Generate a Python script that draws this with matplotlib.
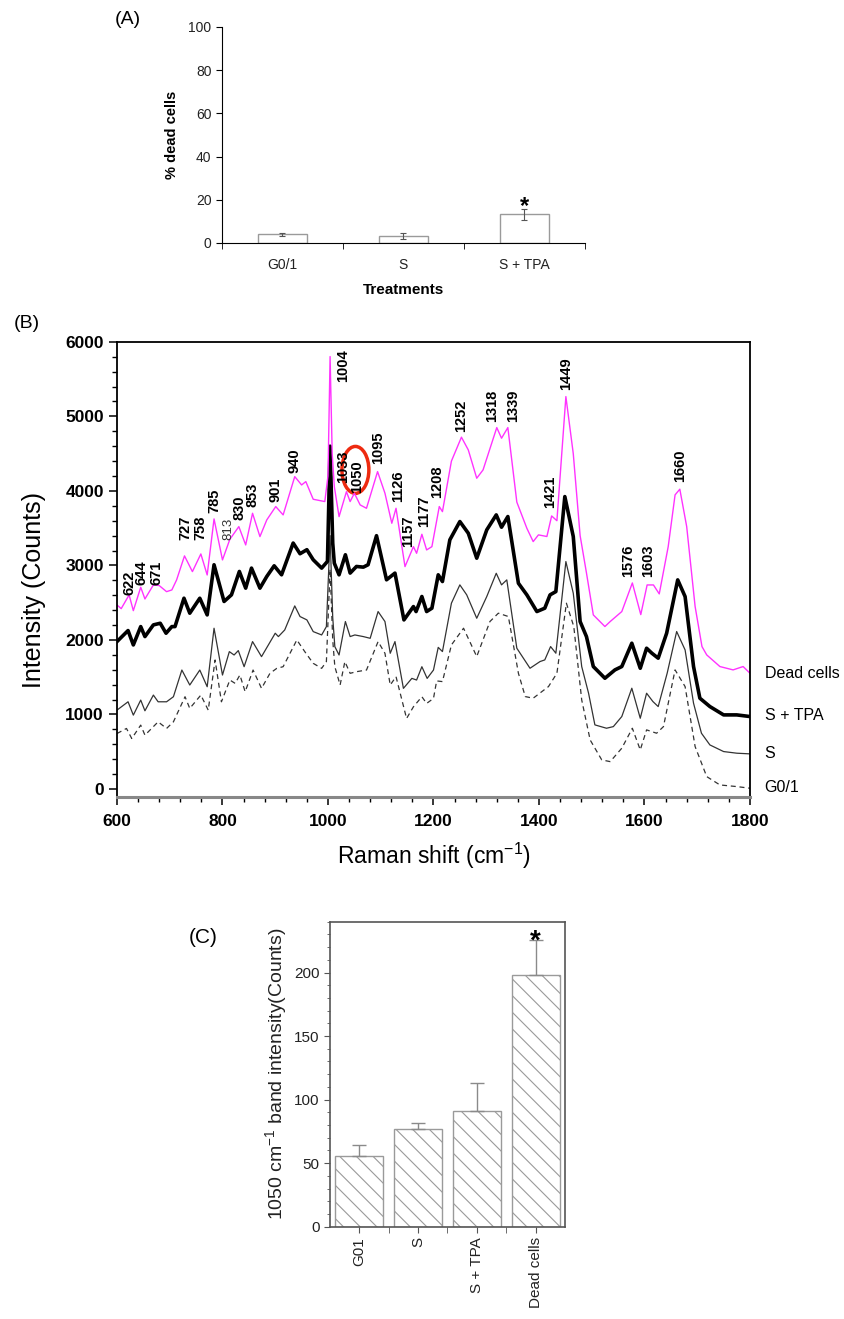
import numpy as np
import matplotlib
matplotlib.use("Agg")
import matplotlib.pyplot as plt
from matplotlib.patches import Ellipse
from matplotlib.ticker import MultipleLocator, FixedLocator

plt.rcParams['font.family'] = ['Liberation Sans', 'DejaVu Sans']
plt.rcParams['mathtext.fontset'] = 'custom'
plt.rcParams['mathtext.rm'] = 'Liberation Sans'
plt.rcParams['mathtext.it'] = 'Liberation Sans:italic'
plt.rcParams['hatch.linewidth'] = 0.8

# (A) percentage of dead cells per treatment
treat_a = ['G0/1', 'S', 'S + TPA']
dead_pct = [4.0, 3.1, 13.2]
dead_err = [0.8, 1.4, 2.5]

# (B) Raman spectra (wavenumber, counts)
w_dead = [600, 608, 623, 631, 645, 653, 669, 680, 694, 704, 713, 728, 743, 759, 771, 784,
          800, 814, 831, 844, 857, 871, 884, 901, 915, 937, 950, 958, 972, 994, 1000, 1004,
          1008, 1012, 1021, 1035, 1042, 1050, 1061, 1073, 1094, 1108, 1121, 1129, 1146, 1162,
          1168, 1178, 1187, 1197, 1211, 1217, 1234, 1253, 1266, 1282, 1294, 1320, 1329, 1341,
          1358, 1377, 1389, 1399, 1415, 1424, 1434, 1451, 1465, 1478, 1490, 1503, 1525, 1535,
          1557, 1577, 1593, 1605, 1617, 1628, 1645, 1658, 1667, 1680, 1696, 1709, 1718, 1743,
          1768, 1787, 1800]
i_dead = [2470, 2420, 2604, 2393, 2707, 2550, 2738, 2730, 2648, 2671, 2805, 3128, 2917, 3154, 2872, 3624,
          3074, 3351, 3521, 3275, 3700, 3387, 3611, 3790, 3678, 4192, 4080, 4125, 3888, 3857, 4200, 5803,
          4500, 4058, 3655, 3990, 3857, 3969, 3812, 3767, 4259, 3969, 3566, 3767, 2984, 3252,
          3163, 3418, 3208, 3252, 3790, 3722, 4400, 4721, 4550, 4170, 4282, 4850, 4707, 4850,
          3850, 3499, 3320, 3410, 3388, 3664, 3600, 5266, 4500, 3400, 2900, 2336, 2180, 2247,
          2381, 2765, 2340, 2738, 2738, 2618, 3253, 3947, 4023, 3522, 2448, 1911, 1799, 1643,
          1598, 1643, 1553]

w_stpa = [600, 621, 631, 645, 653, 669, 682, 693, 704, 710, 727, 738, 757, 771, 784, 803,
          817, 832, 844, 855, 871, 884, 898, 912, 934, 947, 960, 972, 988, 999, 1004, 1009,
          1012, 1021, 1033, 1042, 1054, 1067, 1076, 1092, 1111, 1127, 1144, 1162, 1167, 1178,
          1187, 1197, 1209, 1217, 1231, 1250, 1266, 1282, 1301, 1319, 1329, 1341, 1361, 1377,
          1396, 1411, 1421, 1432, 1449, 1465, 1478, 1490, 1503, 1525, 1544, 1557, 1576, 1592,
          1604, 1614, 1626, 1642, 1663, 1677, 1693, 1705, 1724, 1750, 1775, 1800]
i_stpa = [1978, 2126, 1933, 2179, 2045, 2202, 2224, 2090, 2179, 2179, 2560, 2359, 2560, 2336, 3009, 2516,
          2605, 2919, 2695, 2964, 2695, 2852, 2995, 2874, 3300, 3157, 3211, 3076, 2964, 3054, 4600, 3300,
          3030, 2874, 3143, 2897, 2986, 2977, 3009, 3399, 2807, 2897, 2269, 2448, 2381, 2583,
          2381, 2426, 2874, 2784, 3343, 3589, 3432, 3097, 3477, 3678, 3513, 3656, 2761, 2605,
          2381, 2426, 2605, 2649, 3924, 3388, 2247, 2045, 1643, 1486, 1598, 1643, 1956, 1620,
          1889, 1822, 1755, 2090, 2806, 2582, 1643, 1218, 1106, 994, 994, 972]

w_s = [600, 621, 631, 645, 653, 669, 678, 694, 707, 723, 738, 757, 771, 784, 800, 813,
       822, 830, 841, 857, 874, 900, 906, 918, 937, 947, 960, 972, 988, 997, 1004, 1009,
       1013, 1021, 1033, 1042, 1051, 1067, 1080, 1095, 1108, 1118, 1127, 1143, 1159, 1168,
       1178, 1188, 1200, 1209, 1217, 1234, 1250, 1263, 1282, 1301, 1319, 1329, 1339, 1358,
       1383, 1402, 1411, 1422, 1432, 1451, 1465, 1481, 1494, 1506, 1528, 1541, 1557, 1576,
       1592, 1604, 1616, 1626, 1643, 1661, 1677, 1693, 1708, 1724, 1750, 1775, 1800]
i_s = [1058, 1170, 991, 1193, 1049, 1260, 1170, 1170, 1238, 1596, 1395, 1596, 1372, 2157, 1529, 1843,
       1798, 1857, 1641, 1978, 1776, 2090, 2045, 2134, 2457, 2314, 2269, 2112, 2067, 2179, 3400, 2300,
       1910, 1798, 2247, 2045, 2067, 2045, 2022, 2381, 2247, 1821, 1978, 1350, 1484, 1462,
       1641, 1484, 1596, 1900, 1844, 2493, 2739, 2605, 2291, 2582, 2895, 2739, 2806, 1889,
       1620, 1710, 1732, 1911, 1822, 3052, 2627, 1643, 1285, 860, 815, 837, 972, 1352,
       949, 1285, 1173, 1106, 1553, 2113, 1866, 1151, 748, 591, 502, 480, 471]

w_g01 = [600, 618, 628, 645, 653, 678, 694, 707, 729, 738, 759, 773, 786, 798, 814, 824,
         833, 843, 858, 874, 890, 903, 915, 941, 956, 972, 988, 997, 1004, 1009, 1013, 1023,
         1032, 1042, 1054, 1073, 1095, 1108, 1118, 1129, 1149, 1162, 1178, 1187, 1200, 1206,
         1217, 1234, 1257, 1282, 1307, 1323, 1342, 1361, 1374, 1389, 1418, 1434, 1452, 1466,
         1481, 1497, 1519, 1535, 1557, 1577, 1592, 1604, 1623, 1636, 1658, 1677, 1696, 1718,
         1743, 1775, 1800]
i_g01 = [744, 812, 677, 857, 722, 901, 812, 901, 1238, 1081, 1260, 1058, 1731, 1170, 1462, 1417,
         1529, 1305, 1596, 1350, 1552, 1619, 1641, 2000, 1843, 1686, 1619, 1709, 2950, 2000, 1641, 1395,
         1709, 1552, 1574, 1596, 1978, 1821, 1395, 1507, 946, 1103, 1238, 1148, 1215, 1450,
         1441, 1933, 2157, 1777, 2247, 2359, 2314, 1553, 1240, 1218, 1374, 1553, 2493, 2180,
         1195, 658, 390, 367, 547, 815, 524, 793, 748, 837, 1598, 1374, 569, 166,
         54, 32, 10]

series_names = ['Dead cells', 'S + TPA', 'S', 'G0/1']
series_label_y = [1550, 990, 480, 20]

# peak assignments written above the dead-cell spectrum
peak_text = ['622', '644', '671', '727', '758', '785', '813', '830', '853', '901', '940',
             '1004', '1033', '1050', '1095', '1126', '1157', '1177', '1208', '1252', '1318',
             '1339', '1421', '1449', '1576', '1603', '1660']
peak_x = [623, 647, 675, 729, 759, 784, 811, 833, 856, 901, 937,
          1029, 1029, 1056, 1095, 1133, 1152, 1182, 1207, 1253, 1312,
          1351, 1421, 1451, 1569, 1607, 1667]
peak_y = [2604, 2738, 2738, 3342, 3342, 3700, 3342, 3611, 3790, 3857, 4245,
          5467, 4103, 3977, 4362, 3857, 3252, 3521, 3902, 4796, 4930,
          4930, 3768, 5356, 2850, 2850, 4125]

# (C) 1050 cm-1 band intensity
groups_c = ['G01', 'S', 'S + TPA', 'Dead cells']
band_1050 = [56, 77, 91, 198]
band_err = [8, 4.5, 22, 28]

fig = plt.figure(figsize=(8.44, 13.19), dpi=100)

# ---------------- (A)
axA = fig.add_axes([0.263, 0.8158, 0.430, 0.1638])
xa = np.arange(len(treat_a))
axA.bar(xa, dead_pct, width=0.4, color='white', edgecolor='#9a9a9a', lw=1.0,
        yerr=dead_err, error_kw=dict(ecolor='#555555', elinewidth=0.8, capsize=2.5, capthick=0.8))
axA.set_xlim(-0.5, 2.5)
axA.set_ylim(0, 100)
axA.set_yticks(range(0, 101, 20))
axA.set_xticks(xa)
axA.set_xticklabels(treat_a)
axA.xaxis.set_minor_locator(FixedLocator([-0.5, 0.5, 1.5, 2.5]))
axA.tick_params(axis='x', which='major', length=0, pad=11, labelsize=10, labelcolor='#222222')
axA.tick_params(axis='x', which='minor', length=4, direction='out')
axA.tick_params(axis='y', length=4, labelsize=10, labelcolor='#222222')
axA.spines['top'].set_visible(False)
axA.spines['right'].set_visible(False)
axA.set_ylabel('% dead cells', fontsize=10.5, fontweight='bold', labelpad=7)
axA.set_xlabel('Treatments', fontsize=11, fontweight='bold', labelpad=8)
axA.text(2, 13.8, '*', ha='center', va='baseline', fontsize=17, fontweight='bold')
fig.text(0.151, 0.985, '(A)', ha='center', va='center', fontsize=14)

# ---------------- (B)
axB = fig.add_axes([0.1386, 0.3958, 0.75, 0.345])
axB.plot(w_g01, i_g01, color='#333333', lw=0.9, ls=(0, (4, 3)))
axB.plot(w_s, i_s, color='#333333', lw=0.9)
axB.plot(w_stpa, i_stpa, color='black', lw=2.6)
axB.plot(w_dead, i_dead, color='#ff33ff', lw=1.0)
axB.set_xlim(600, 1800)
axB.set_ylim(-107, 6000)
axB.xaxis.set_major_locator(MultipleLocator(200))
axB.xaxis.set_minor_locator(MultipleLocator(40))
axB.yaxis.set_major_locator(MultipleLocator(1000))
axB.yaxis.set_minor_locator(MultipleLocator(200))
axB.tick_params(which='major', direction='out', length=6, width=1.1, labelsize=12.5)
axB.tick_params(axis='x', which='major', pad=6)
axB.tick_params(which='minor', direction='out', length=3.5, width=1.0)
for lab in axB.get_xticklabels() + axB.get_yticklabels():
    lab.set_fontweight('bold')
for side in ['top', 'right', 'left']:
    axB.spines[side].set_linewidth(1.3)
axB.spines['bottom'].set_color('#888888')
axB.spines['bottom'].set_linewidth(2.2)
axB.set_xlabel('Raman shift (cm$^{-1}$)', fontsize=16.5, labelpad=9)
axB.set_ylabel('Intensity (Counts)', fontsize=18)
axB.yaxis.set_label_coords(-0.112, 0.455)

for t, px, py in zip(peak_text, peak_x, peak_y):
    if t == '813':
        axB.text(px, py, t, rotation=90, ha='center', va='bottom', fontsize=9.5, color='#333333')
    else:
        axB.text(px, py, t, rotation=90, ha='center', va='bottom', fontsize=10.5, fontweight='bold')

axB.add_patch(Ellipse((1052, 4282), width=51, height=630, fill=False, ec='#ee2a10', lw=2.5))

for name, y in zip(series_names, series_label_y):
    axB.text(1828, y, name, ha='left', va='center', fontsize=11.5, clip_on=False)
fig.text(0.032, 0.755, '(B)', ha='center', va='center', fontsize=14)

# ---------------- (C)
axC = fig.add_axes([0.391, 0.07, 0.2784, 0.2312])
xc = np.arange(len(groups_c))
axC.bar(xc, band_1050, width=0.82, color='white', edgecolor='#9a9a9a', hatch='\\\\', lw=1.0)
axC.errorbar(xc, band_1050, yerr=[[0] * len(band_err), band_err], fmt='none',
             ecolor='#8a8a8a', elinewidth=1.0, capsize=5, capthick=1.0)
axC.set_xlim(-0.5, 3.5)
axC.set_ylim(0, 240)
axC.set_yticks(range(0, 201, 50))
axC.yaxis.set_minor_locator(MultipleLocator(10))
axC.set_xticks(xc)
axC.set_xticklabels(groups_c, rotation=90)
axC.xaxis.set_minor_locator(FixedLocator([0.5, 1.5, 2.5]))
axC.tick_params(which='both', direction='out', color='#555555')
axC.tick_params(which='major', length=4, labelsize=11, labelcolor='#222222')
axC.tick_params(which='minor', length=2.5)
axC.tick_params(axis='x', which='minor', length=4)
for side in axC.spines:
    axC.spines[side].set_color('#555555')
    axC.spines[side].set_linewidth(1.2)
axC.set_ylabel('1050 cm$^{-1}$ band intensity(Counts)', fontsize=14, color='#222222', labelpad=4)
axC.text(3, 219, '*', ha='center', va='baseline', fontsize=20, fontweight='bold')
fig.text(0.2405, 0.2889, '(C)', ha='center', va='center', fontsize=15)

fig.savefig('out.png', dpi=100)
